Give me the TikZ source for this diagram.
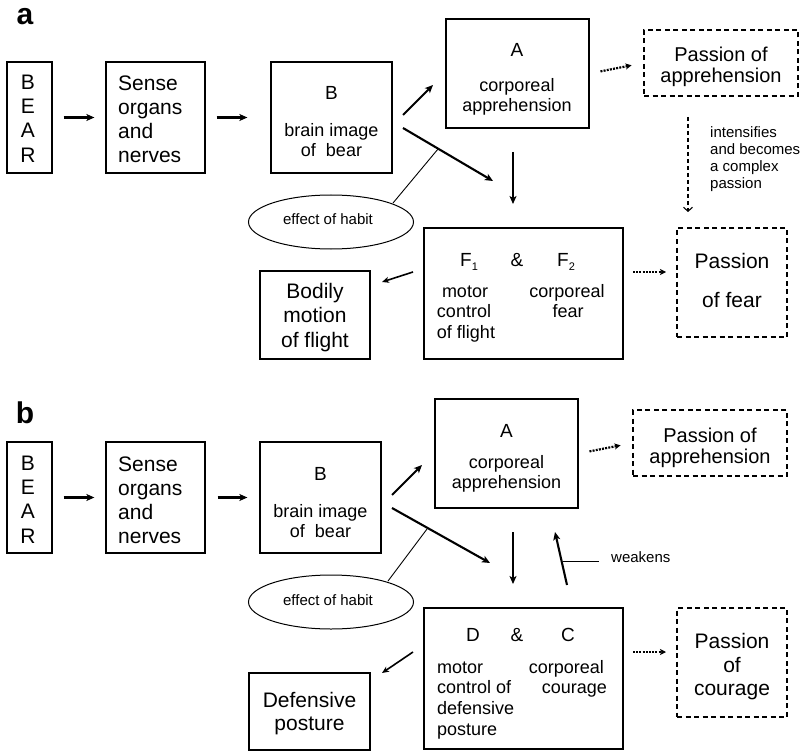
\documentclass[tikz,border=0pt]{standalone}
\usepackage{fontspec}
\setmainfont{Liberation Sans}
\usetikzlibrary{arrows.meta,shapes.geometric}
\begin{document}
\begin{tikzpicture}[x=1pt,y=-1pt,
  box/.style={draw, line width=1.3pt, inner sep=0pt},
  dbox/.style={draw, line width=1.3pt, dash pattern=on 5pt off 3.5pt, inner sep=0pt},
  habit/.style={draw, ellipse, line width=1pt, inner sep=0pt},
  txt/.style={anchor=base, inner sep=0pt},
  ltxt/.style={anchor=base west, inner sep=0pt},
  rtxt/.style={anchor=base east, inner sep=0pt},
  big/.style={font=\fontsize{21}{24}\selectfont},
  pas/.style={font=\fontsize{20}{24}\selectfont},
  let/.style={font=\fontsize{19}{22}\selectfont},
  mid/.style={font=\fontsize{18}{21}\selectfont},
  sml/.style={font=\fontsize{15}{17}\selectfont},
  lab/.style={font=\fontsize{30}{30}\selectfont\bfseries},
  arr/.style={line width=2.1pt, -{Stealth[length=8pt, width=7pt, inset=2pt]}},
  thinarr/.style={line width=1.6pt, -{Stealth[length=7pt, width=6pt, inset=2pt]}},
  dotarr/.style={line width=2.2pt, dash pattern=on 2pt off 1.2pt, -{Stealth[length=6pt, width=6pt, inset=1.5pt]}},
  dasharr/.style={line width=1.1pt, dash pattern=on 4pt off 3pt, -{Straight Barb[length=4pt, width=9pt]}},
  thin/.style={line width=0.9pt}
]
\useasboundingbox (0,0) rectangle (802,751);

% ================= panel a =================
\node[txt, lab] (la) at (25,25) {a};

\node[box, minimum width=45pt, minimum height=111pt] (bearA) at (29.5,117.5) {};
\node[txt, big] (bearA1) at (28,90) {B};
\node[txt, big] (bearA2) at (28,114) {E};
\node[txt, big] (bearA3) at (28,138) {A};
\node[txt, big] (bearA4) at (28,163) {R};

\node[box, minimum width=99pt, minimum height=111pt] (senseA) at (155.5,117.5) {};
\node[ltxt, big] (senseA1) at (118,91) {Sense};
\node[ltxt, big] (senseA2) at (118,115) {organs};
\node[ltxt, big] (senseA3) at (118,139) {and};
\node[ltxt, big] (senseA4) at (118,163) {nerves};

\node[box, minimum width=121pt, minimum height=111pt] (bA) at (331.5,117.5) {};
\node[txt, let] (bA1) at (331.5,100) {B};
\node[txt, mid] (bA2) at (331.5,137) {brain image};
\node[txt, mid] (bA3) at (331.5,157) {of\ \ bear};

\node[box, minimum width=143pt, minimum height=109pt] (aA) at (517.5,73.5) {};
\node[txt, let] (aA1) at (517,57) {A};
\node[txt, mid] (aA2) at (517,92) {corporeal};
\node[txt, mid] (aA3) at (517,112) {apprehension};

\node[dbox, minimum width=154pt, minimum height=66pt] (papA) at (721,63) {};
\node[txt, pas] (papA1) at (721,62) {Passion of};
\node[txt, pas] (papA2) at (721,83) {apprehension};

\node[box, minimum width=199pt, minimum height=131pt] (fA) at (523.5,293.5) {};
\node[txt, let] (fA1) at (469,266) {F\raisebox{-0.22em}{\fontsize{11}{11}\selectfont 1}};
\node[txt, let] (fA2) at (517,266) {\&};
\node[txt, let] (fA3) at (566,266) {F\raisebox{-0.22em}{\fontsize{11}{11}\selectfont 2}};
\node[txt, mid] (fA4) at (465,297) {motor};
\node[txt, mid] (fA5) at (464,317) {control};
\node[txt, mid] (fA6) at (466,338) {of flight};
\node[txt, mid] (fA7) at (567,297) {corporeal};
\node[txt, mid] (fA8) at (568,317) {fear};

\node[dbox, minimum width=110pt, minimum height=109pt] (pfA) at (732,282.5) {};
\node[txt, big] (pfA1) at (732,268) {Passion};
\node[txt, big] (pfA2) at (732,307) {of fear};

\node[box, minimum width=110pt, minimum height=88pt] (bodA) at (315,315) {};
\node[txt, big] (bodA1) at (315,298) {Bodily};
\node[txt, big] (bodA2) at (315,322) {motion};
\node[txt, big] (bodA3) at (315,347) {of flight};

\node[habit, minimum width=165pt, minimum height=54pt] (habA) at (331,222) {};
\node[txt, sml] (habA1) at (328,225) {effect of habit};

\node[ltxt, sml] (intA1) at (710,138) {intensifies};
\node[ltxt, sml] (intA2) at (710,155) {and becomes};
\node[ltxt, sml] (intA3) at (710,172) {a complex};
\node[ltxt, sml] (intA4) at (710,189) {passion};

% connectors a
\draw[arr, shorten <=11pt, shorten >=11pt] (bearA.east) -- (senseA.west);
\draw[arr, shorten <=11pt, shorten >=23pt] (senseA.east) -- (bA.west);
\coordinate (ba1) at (403,115); \coordinate (ba2) at (433,85);
\draw[arr] (ba1) -- (ba2);
\coordinate (bf1) at (403,128); \coordinate (bf2) at (493,181);
\draw[arr] (bf1) -- (bf2);
\coordinate (af1) at (513,152); \coordinate (af2) at (513,204);
\draw[arr, line width=2.3pt] (af1) -- (af2);
\draw[dotarr, shorten <=11pt, shorten >=12pt] (aA.east) -- (papA.west);
\coordinate (pp1) at (688,117); \coordinate (pp2) at (688,212);
\draw[dasharr] (pp1) -- (pp2);
\coordinate (fp1) at (633,272); \coordinate (fp2) at (666,272);
\draw[dotarr] (fp1) -- (fp2);
\coordinate (fb1) at (413,272); \coordinate (fb2) at (382,282);
\draw[thinarr] (fb1) -- (fb2);
\coordinate (hl1) at (393,203); \coordinate (hl2) at (438,149);
\draw[thin] (hl1) -- (hl2);

% ================= panel b =================
\node[txt, lab] (lb) at (25,423) {b};

\node[box, minimum width=45pt, minimum height=111pt] (bearB) at (29.5,497.5) {};
\node[txt, big] (bearB1) at (28,470) {B};
\node[txt, big] (bearB2) at (28,494) {E};
\node[txt, big] (bearB3) at (28,518) {A};
\node[txt, big] (bearB4) at (28,543) {R};

\node[box, minimum width=99pt, minimum height=111pt] (senseB) at (155.5,497.5) {};
\node[ltxt, big] (senseB1) at (118,471) {Sense};
\node[ltxt, big] (senseB2) at (118,495) {organs};
\node[ltxt, big] (senseB3) at (118,519) {and};
\node[ltxt, big] (senseB4) at (118,543) {nerves};

\node[box, minimum width=121pt, minimum height=111pt] (bB) at (320.5,497.5) {};
\node[txt, let] (bB1) at (320.5,480) {B};
\node[txt, mid] (bB2) at (320.5,517) {brain image};
\node[txt, mid] (bB3) at (320.5,537) {of\ \ bear};

\node[box, minimum width=143pt, minimum height=109pt] (aB) at (506.5,453.5) {};
\node[txt, let] (aB1) at (506.5,437) {A};
\node[txt, mid] (aB2) at (506.5,468) {corporeal};
\node[txt, mid] (aB3) at (506.5,488) {apprehension};

\node[dbox, minimum width=154pt, minimum height=66pt] (papB) at (710,443) {};
\node[txt, pas] (papB1) at (710,442) {Passion of};
\node[txt, pas] (papB2) at (710,463) {apprehension};

\node[box, minimum width=199pt, minimum height=141pt] (dcB) at (523.5,678.5) {};
\node[txt, let] (dcB1) at (473,641) {D};
\node[txt, let] (dcB2) at (517,641) {\&};
\node[txt, let] (dcB3) at (568,641) {C};
\node[ltxt, mid] (dcB4) at (437,673) {motor};
\node[ltxt, mid] (dcB5) at (437,693) {control of};
\node[ltxt, mid] (dcB6) at (437,714) {defensive};
\node[ltxt, mid] (dcB7) at (437,735) {posture};
\node[rtxt, mid] (dcB8) at (604,673) {corporeal};
\node[rtxt, mid] (dcB9) at (607,693) {courage};

\node[dbox, minimum width=110pt, minimum height=109pt] (pcB) at (732,662.5) {};
\node[txt, big] (pcB1) at (732,648) {Passion};
\node[txt, big] (pcB2) at (732,672) {of};
\node[txt, big] (pcB3) at (732,695) {courage};

\node[box, minimum width=121pt, minimum height=77pt] (defB) at (309.5,711.5) {};
\node[txt, big] (defB1) at (309.5,707) {Defensive};
\node[txt, big] (defB2) at (309.5,730) {posture};

\node[habit, minimum width=165pt, minimum height=54pt] (habB) at (331,602) {};
\node[txt, sml] (habB1) at (328,605) {effect of habit};

\node[ltxt, sml] (weak) at (611,562) {weakens};

% connectors b
\draw[arr, shorten <=11pt, shorten >=11pt] (bearB.east) -- (senseB.west);
\draw[arr, shorten <=12pt, shorten >=12pt] (senseB.east) -- (bB.west);
\coordinate (bab1) at (392,495); \coordinate (bab2) at (422,465);
\draw[arr] (bab1) -- (bab2);
\coordinate (bdb1) at (392,508); \coordinate (bdb2) at (490,563);
\draw[arr] (bdb1) -- (bdb2);
\coordinate (adb1) at (513,532); \coordinate (adb2) at (513,584);
\draw[arr, line width=2.3pt] (adb1) -- (adb2);
\coordinate (wk1) at (567,585); \coordinate (wk2) at (555,532);
\draw[arr] (wk1) -- (wk2);
\coordinate (wl1) at (563,561); \coordinate (wl2) at (599,561);
\draw[thin] (wl1) -- (wl2);
\draw[dotarr, shorten <=11pt, shorten >=12pt] (aB.east) -- (papB.west);
\coordinate (dp1) at (633,652); \coordinate (dp2) at (666,652);
\draw[dotarr] (dp1) -- (dp2);
\coordinate (dd1) at (413,652); \coordinate (dd2) at (382,673);
\draw[thinarr] (dd1) -- (dd2);
\coordinate (hb1) at (388,581); \coordinate (hb2) at (427,529);
\draw[thin] (hb1) -- (hb2);
\end{tikzpicture}
\end{document}
